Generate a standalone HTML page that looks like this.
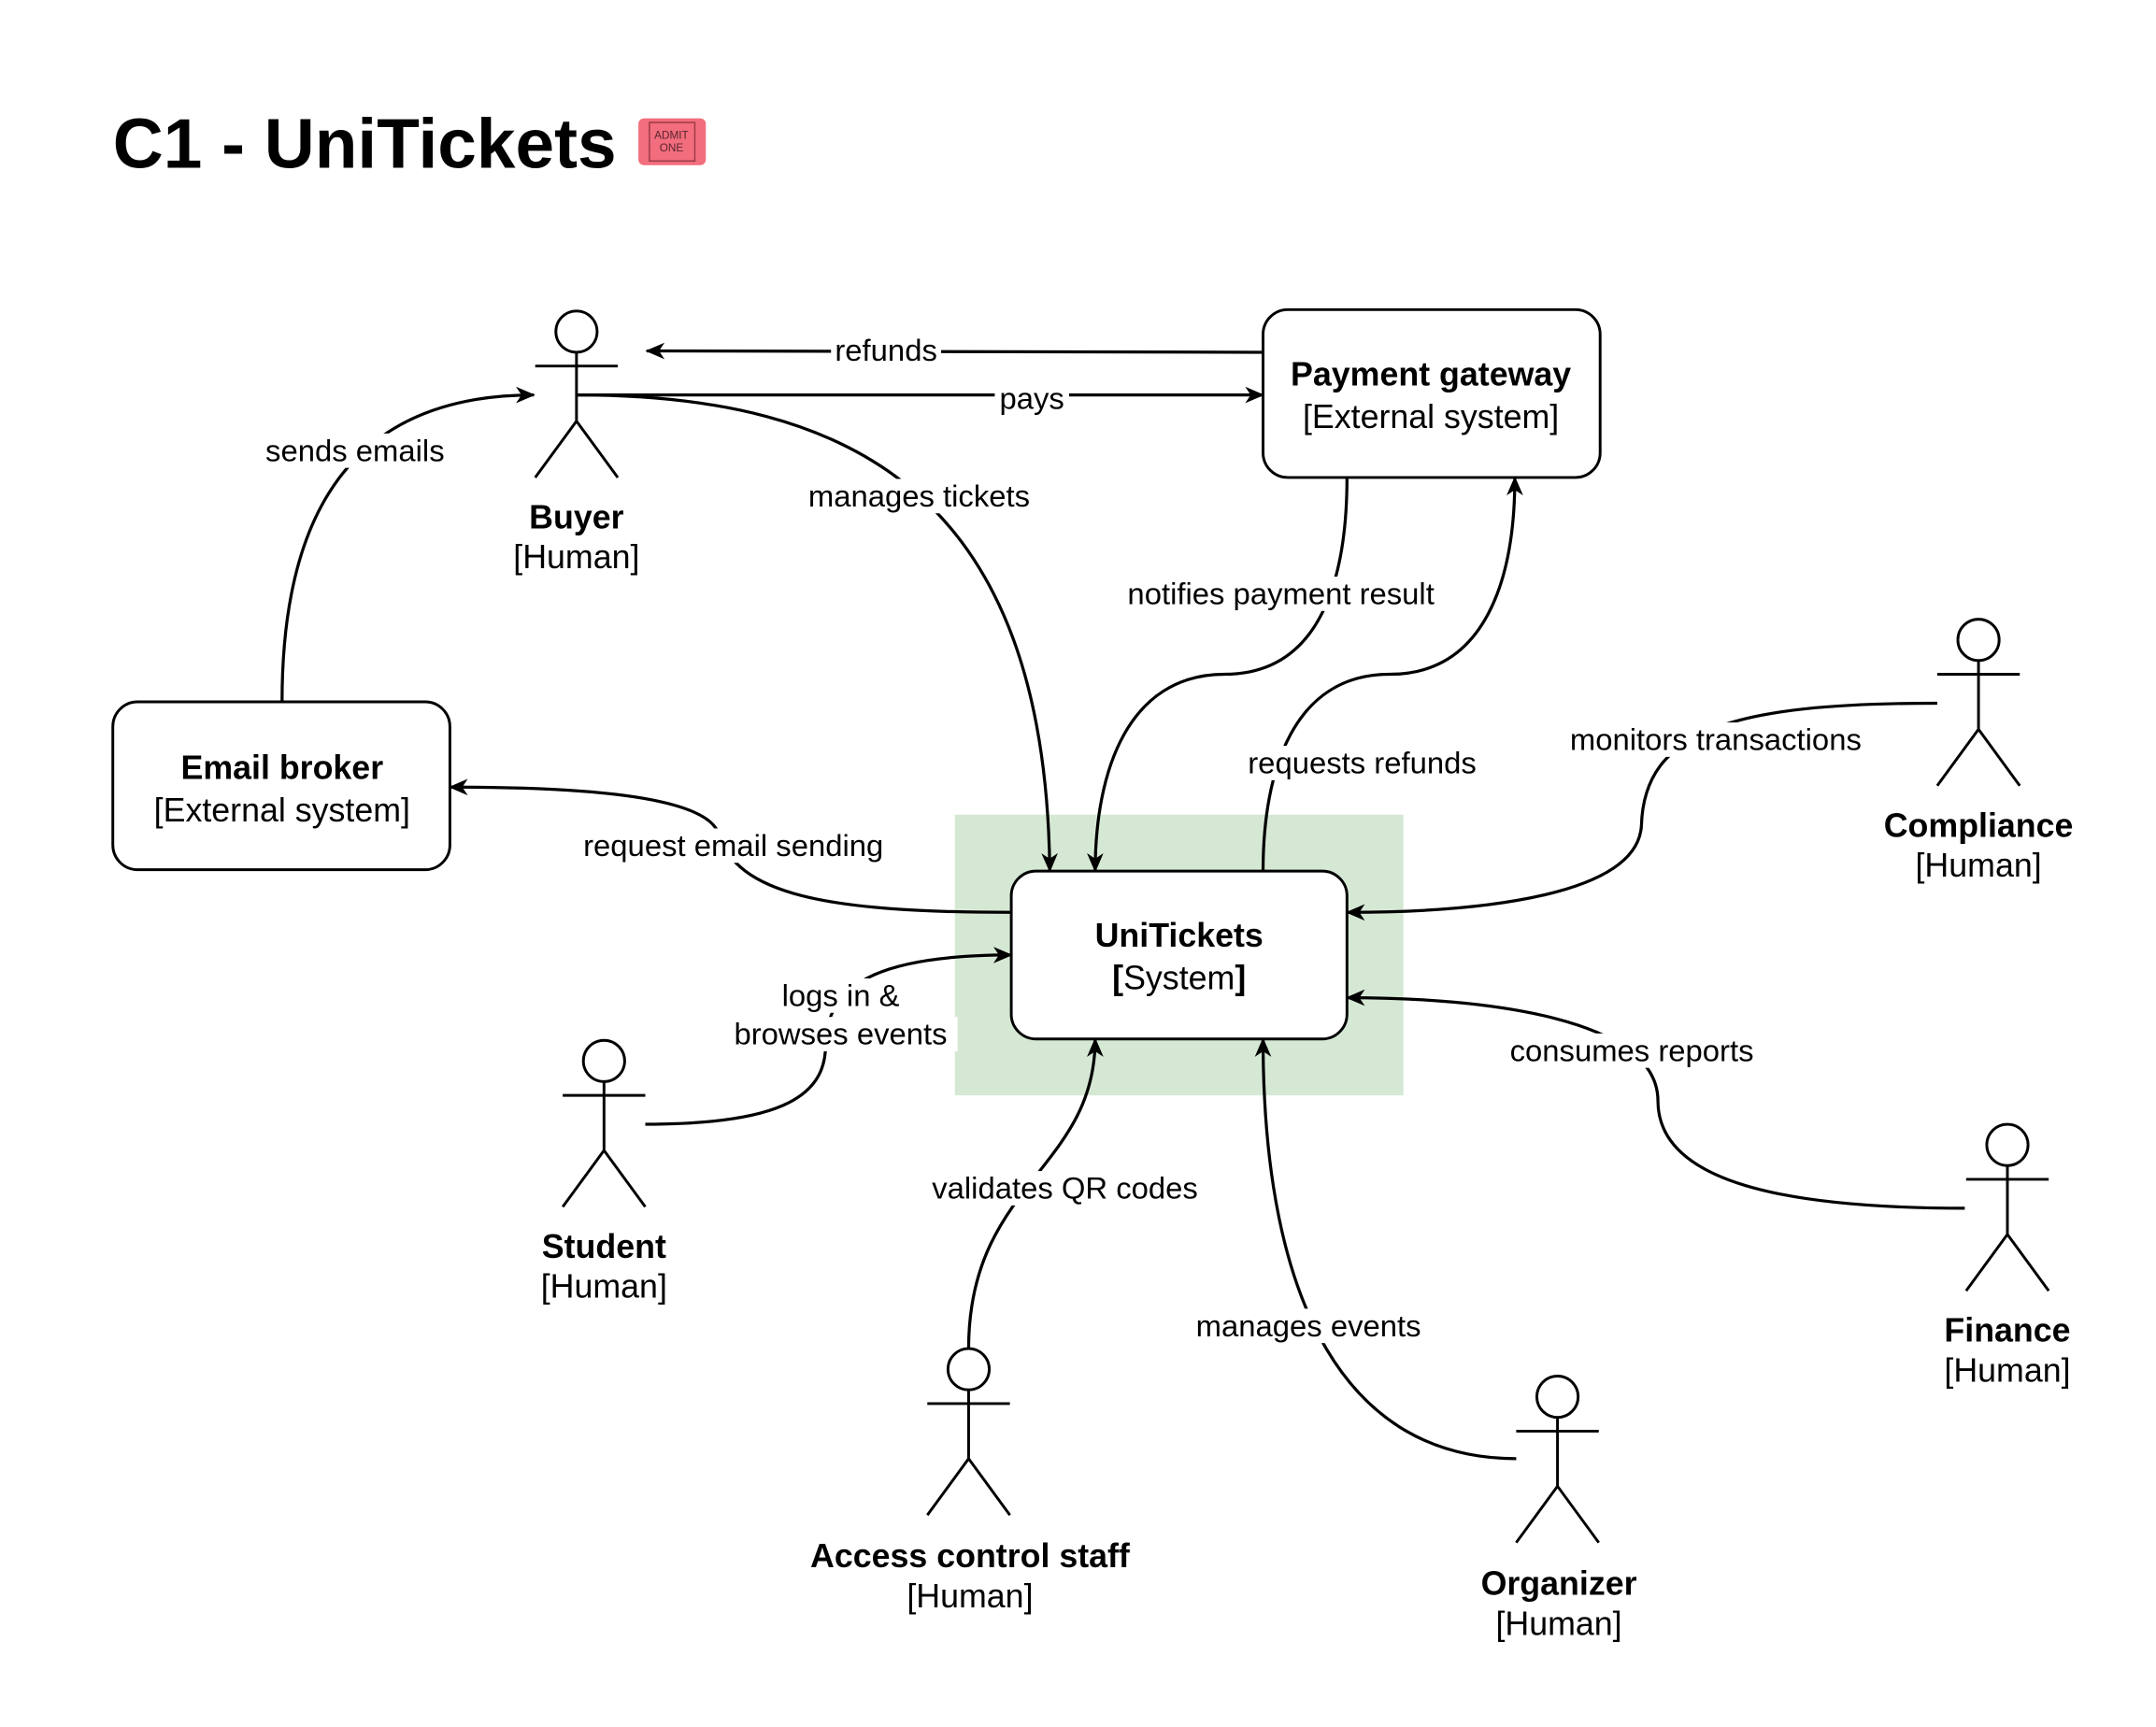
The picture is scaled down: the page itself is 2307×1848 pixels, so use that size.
<!DOCTYPE html>
<html><head><meta charset="utf-8"><style>
html,body{margin:0;padding:0;background:#fff;}
svg{display:block;}
text{font-family:"Liberation Sans",Arial,sans-serif;fill:#000;}
.lbl{font-size:22.3px;text-anchor:middle;}
.b{font-weight:bold;}
.nm{font-size:24.3px;text-anchor:middle;}
.e{fill:none;stroke:#000;stroke-width:2.2;}
.bg{fill:#fff;}
</style></head><body>
<svg width="2307" height="1848" viewBox="0 0 1567 1255" preserveAspectRatio="none" xmlns="http://www.w3.org/2000/svg">
<defs>
<marker id="ar" viewBox="0 0 14 12" refX="13" refY="6" markerWidth="14" markerHeight="12" markerUnits="userSpaceOnUse" orient="auto">
<path d="M0,0 L14,6 L0,12 L4,6 z" fill="#000"/>
</marker>
</defs>
<rect width="1567" height="1255" fill="#fff"/>
<text x="82" y="122" font-size="50.8" font-weight="bold">C1 - UniTickets</text>
<g>
<rect x="464" y="86" width="49" height="34" rx="4" fill="#f26d7d"/>
<rect x="472" y="89" width="33" height="28" fill="none" stroke="#9b3a46" stroke-width="1"/>
<text x="488" y="101" font-size="8" text-anchor="middle" style="fill:#5a2530">ADMIT</text>
<text x="488" y="110" font-size="8" text-anchor="middle" style="fill:#5a2530">ONE</text>
</g>
<rect x="694" y="592" width="326" height="204" fill="#d5e8d4"/>

<path class="e" d="M918,256 L470,255" marker-end="url(#ar)"/>
<path class="e" d="M419,287 L918,287" marker-end="url(#ar)"/>
<path class="e" d="M419,287 C620,287 760,360 763,633" marker-end="url(#ar)"/>
<path class="e" d="M205,510 C205,380 250,287 388,287" marker-end="url(#ar)"/>
<path class="e" d="M979,347 C979,420 960,490 890,490 C820,490 796,560 796,633" marker-end="url(#ar)"/>
<path class="e" d="M918,633 C918,560 940,490 1010,490 C1080,490 1101,420 1101,347" marker-end="url(#ar)"/>
<path class="e" d="M735,663 C600,663 535,650 522,605 C510,575 400,572 327,572" marker-end="url(#ar)"/>
<path class="e" d="M469,817 C560,817 600,800 600,760 C600,710 650,694 735,694" marker-end="url(#ar)"/>
<path class="e" d="M704,980 C704,860 796,850 796,755" marker-end="url(#ar)"/>
<path class="e" d="M1102,1060 C980,1060 918,950 918,755" marker-end="url(#ar)"/>
<path class="e" d="M1408,511 C1260,511 1195,530 1193,600 C1190,650 1080,663 979,663" marker-end="url(#ar)"/>
<path class="e" d="M1428,878 C1300,878 1205,860 1205,800 C1205,740 1080,725 979,725" marker-end="url(#ar)"/>

<g class="bg">
<rect x="604" y="242" width="80" height="25"/>
<rect x="723" y="277" width="54" height="25"/>
<rect x="585" y="348" width="166" height="25"/>
<rect x="189" y="315" width="138" height="25"/>
<rect x="812" y="419" width="238" height="25"/>
<rect x="900" y="542" width="180" height="25"/>
<rect x="416" y="602" width="234" height="25"/>
<rect x="562" y="711" width="98" height="25"/>
<rect x="526" y="739" width="170" height="25"/>
<rect x="670" y="851" width="208" height="25"/>
<rect x="865" y="951" width="172" height="25"/>
<rect x="1134" y="525" width="227" height="25"/>
<rect x="1090" y="751" width="192" height="25"/>
</g>
<text class="lbl" x="644" y="262">refunds</text>
<text class="lbl" x="750" y="297">pays</text>
<text class="lbl" x="668" y="368">manages tickets</text>
<text class="lbl" x="258" y="335">sends emails</text>
<text class="lbl" x="931" y="439">notifies payment result</text>
<text class="lbl" x="990" y="562">requests refunds</text>
<text class="lbl" x="533" y="622">request email sending</text>
<text class="lbl" x="611" y="731">logs in &amp;</text>
<text class="lbl" x="611" y="759">browses events</text>
<text class="lbl" x="774" y="871">validates QR codes</text>
<text class="lbl" x="951" y="971">manages events</text>
<text class="lbl" x="1247" y="545">monitors transactions</text>
<text class="lbl" x="1186" y="771">consumes reports</text>

<rect x="918" y="225" width="245" height="122" rx="18" fill="#fff" stroke="#000" stroke-width="2"/>
<text class="nm b" x="1040" y="280">Payment gateway</text>
<text class="nm" x="1040" y="311">[External system]</text>
<rect x="82" y="510" width="245" height="122" rx="18" fill="#fff" stroke="#000" stroke-width="2"/>
<text class="nm b" x="205" y="566">Email broker</text>
<text class="nm" x="205" y="597">[External system]</text>
<rect x="735" y="633" width="244" height="122" rx="18" fill="#fff" stroke="#000" stroke-width="2"/>
<text class="nm b" x="857" y="688">UniTickets</text>
<text class="nm" x="857" y="719"><tspan font-weight="bold">[</tspan>System<tspan font-weight="bold">]</tspan></text>

<g fill="#fff" stroke="#000" stroke-width="2">
<g transform="translate(419,241)"><circle r="15"/><path d="M0,15V65M-30,25H30M-30,106L0,65L30,106" fill="none"/></g>
<g transform="translate(439,771)"><circle r="15"/><path d="M0,15V65M-30,25H30M-30,106L0,65L30,106" fill="none"/></g>
<g transform="translate(1438,465)"><circle r="15"/><path d="M0,15V65M-30,25H30M-30,106L0,65L30,106" fill="none"/></g>
<g transform="translate(1459,832)"><circle r="15"/><path d="M0,15V65M-30,25H30M-30,106L0,65L30,106" fill="none"/></g>
<g transform="translate(704,995)"><circle r="15"/><path d="M0,15V65M-30,25H30M-30,106L0,65L30,106" fill="none"/></g>
<g transform="translate(1132,1015)"><circle r="15"/><path d="M0,15V65M-30,25H30M-30,106L0,65L30,106" fill="none"/></g>
</g>
<text class="nm b" x="419" y="384">Buyer</text><text class="nm" x="419" y="413">[Human]</text>
<text class="nm b" x="439" y="914">Student</text><text class="nm" x="439" y="943">[Human]</text>
<text class="nm b" x="1438" y="608">Compliance</text><text class="nm" x="1438" y="637">[Human]</text>
<text class="nm b" x="1459" y="975">Finance</text><text class="nm" x="1459" y="1004">[Human]</text>
<text class="nm b" x="705" y="1139">Access control staff</text><text class="nm" x="705" y="1168">[Human]</text>
<text class="nm b" x="1133" y="1159">Organizer</text><text class="nm" x="1133" y="1188">[Human]</text>
</svg>
</body></html>
